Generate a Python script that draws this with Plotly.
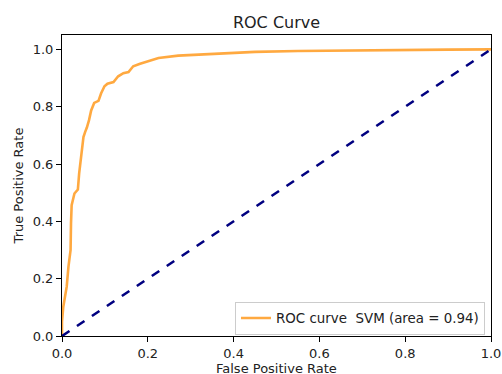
import plotly.graph_objects as go

fpr = [0.0, 0.0, 0.003, 0.008, 0.011, 0.015, 0.020, 0.021, 0.0225, 0.029, 0.037, 0.040, 0.044,
       0.050, 0.054, 0.058, 0.063, 0.068, 0.075, 0.085, 0.091, 0.099, 0.106, 0.120,
       0.131, 0.143, 0.155, 0.166, 0.182, 0.201, 0.225, 0.271, 0.333, 0.388, 0.45,
       0.55, 0.65, 0.80, 0.90, 1.0]
tpr = [0.0, 0.05, 0.102, 0.14, 0.172, 0.241, 0.30, 0.393, 0.456, 0.497, 0.511, 0.567, 0.625,
       0.694, 0.712, 0.727, 0.753, 0.787, 0.813, 0.820, 0.846, 0.871, 0.880, 0.886,
       0.906, 0.917, 0.921, 0.941, 0.950, 0.958, 0.970, 0.978, 0.983, 0.987, 0.991,
       0.994, 0.996, 0.998, 0.999, 1.0]
diag = [0.0, 1.0]
ticks = [0.0, 0.2, 0.4, 0.6, 0.8, 1.0]
tick_text = ["0.0", "0.2", "0.4", "0.6", "0.8", "1.0"]
roc_label = "ROC curve  SVM (area = 0.94)"
x_title = "False Positive Rate"
y_title = "True Positive Rate"

fig = go.Figure()
fig.add_trace(go.Scatter(x=fpr, y=tpr, mode="lines", name=roc_label,
                         line=dict(color="rgba(255,140,0,0.75)", width=2.6)))
fig.add_trace(go.Scatter(x=diag, y=diag, mode="lines", showlegend=False,
                         line=dict(color="#000080", width=2.6, dash="dash")))

font = "DejaVu Sans"
axis_common = dict(showgrid=False, zeroline=False, showline=True, linecolor="black",
                   linewidth=1, mirror=True, ticks="outside", ticklen=5, tickwidth=1,
                   tickcolor="black", tickfont=dict(family=font, size=13, color="#222"),
                   tickvals=ticks, ticktext=tick_text, automargin=False)
fig.update_layout(
    width=502, height=374,
    margin=dict(l=62, r=11, t=35, b=38),
    paper_bgcolor="white", plot_bgcolor="white",
    title=dict(text="ROC Curve", x=(62 + 491) / 2 / 502, xanchor="center", y=1 - 22/374, yanchor="middle",
               font=dict(family=font, size=16, color="#222")),
    xaxis=dict(range=[0, 1], **axis_common),
    yaxis=dict(range=[0, 1.05], title=dict(text=y_title, standoff=6,
               font=dict(family=font, size=13, color="#222")), **axis_common),
    legend=dict(x=0.986, y=0.004, xanchor="right", yanchor="bottom",
                bgcolor="white", bordercolor="#cccccc", borderwidth=1,
                font=dict(family=font, size=13.4, color="#222")),
    showlegend=True,
)
fig.add_annotation(text=x_title, xref="paper", yref="paper", x=0.5, y=-0.076,
                   xanchor="center", yanchor="top", showarrow=False,
                   font=dict(family=font, size=13, color="#222"))
fig.write_html("out.html", config={"displayModeBar": False},
               post_script="document.body.style.margin='0';document.body.style.overflow='hidden';")
